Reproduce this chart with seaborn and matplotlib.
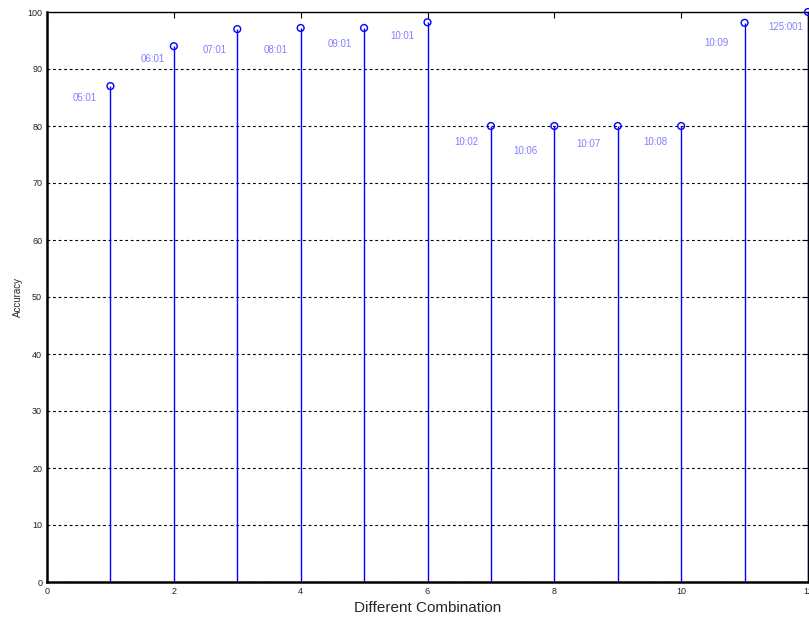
import matplotlib
matplotlib.use("Agg")
import matplotlib.pyplot as plt
import seaborn as sns
import pandas as pd

combo = [1, 2, 3, 4, 5, 6, 7, 8, 9, 10, 11, 12]
accuracy = [87, 94, 97, 97.2, 97.2, 98.2, 80, 80, 80, 80, 98.1, 100]
labels = ["05:01", "06:01", "07:01", "08:01", "09:01", "10:01",
          "10:02", "10:06", "10:07", "10:08", "10:09", "125:001"]
label_x = [0.60, 1.66, 2.65, 3.60, 4.62, 5.60, 6.61, 7.55, 8.53, 9.59, 10.55, 11.65]
label_y = [84.9, 91.8, 93.3, 93.3, 94.4, 95.8, 77.2, 75.6, 76.8, 77.2, 94.6, 97.4]
xticks = [0, 2, 4, 6, 8, 10, 12]
yticks = [0, 10, 20, 30, 40, 50, 60, 70, 80, 90, 100]

df = pd.DataFrame({"combo": combo, "acc": accuracy})

sns.set_style("white")
plt.rcParams['font.family'] = ['Liberation Sans', 'DejaVu Sans']

fig = plt.figure(figsize=(8.09, 6.25), dpi=100)
ax = fig.add_axes([47/809, 1-582/625, (808-47)/809, (582-12)/625])

ax.vlines(df["combo"], 0, df["acc"], color="#0000ff", linewidth=1.0, zorder=3)
sns.scatterplot(data=df, x="combo", y="acc", ax=ax, marker="o", s=24,
                facecolors="none", edgecolor="#0000ff", linewidth=1.0,
                zorder=4, clip_on=False, legend=False)

for lx, ly, t in zip(label_x, label_y, labels):
    ax.text(lx, ly, t, color="#8080ff", fontsize=7, ha="center", va="center")

ax.set_xlim(0, 12)
ax.set_ylim(0, 100)
ax.set_xticks(xticks)
ax.set_yticks(yticks)
ax.yaxis.grid(True, linestyle=(0, (2.5, 2.5)), color="black", linewidth=0.8)
ax.xaxis.grid(False)
ax.tick_params(direction="in", length=4, width=0.8, labelsize=6.5,
               top=True, right=True, colors="black", labelcolor="#222222")
for sp in ax.spines.values():
    sp.set_color("black")
    sp.set_linewidth(1.0)
ax.spines["left"].set_linewidth(1.8)
ax.spines["bottom"].set_linewidth(1.8)

ax.set_xlabel("Different Combination", fontsize=11, labelpad=4)
ax.set_ylabel("Accuracy", fontsize=7, labelpad=3, fontstretch="ultra-condensed")

fig.savefig("out.png", dpi=100)
